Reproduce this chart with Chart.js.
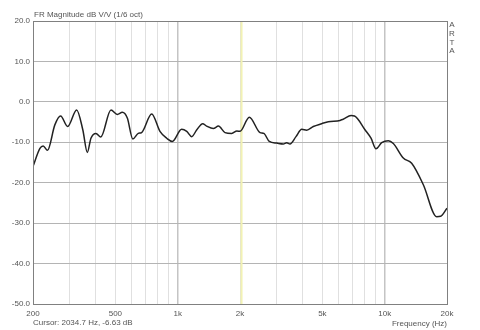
<!DOCTYPE html>
<html>
<head>
<meta charset="utf-8">
<script src="https://cdn.jsdelivr.net/npm/chart.js@4/dist/chart.umd.min.js"></script>
<style>
  html, body { margin: 0; padding: 0; background: #fff; }
  #wrap { position: relative; width: 480px; height: 330px; }
</style>
</head>
<body>
<div id="wrap"><canvas id="fr" width="480" height="330"></canvas></div>
<script>
// FR magnitude, 1/6 oct smoothing
const freqHz = [200, 216, 224, 235, 255, 272, 294, 325, 348, 366, 381, 403, 425, 476, 511, 540, 571, 607, 645, 669,
  749, 821, 885, 942, 1045, 1106, 1169, 1237, 1320, 1380, 1486, 1574, 1693, 1824, 1932, 2000, 2218, 2500, 2608, 2771,
  3007, 3237, 3363, 3487, 3728, 3974, 4200, 4520, 4964, 5341, 6082, 6300, 6886, 7150, 8030, 8590, 9080, 9670, 10415,
  11010, 12300, 13500, 15370, 17830, 18620, 20000];
const magDb = [-16.0, -11.5, -10.9, -12.0, -5.7, -3.5, -6.1, -2.0, -6.9, -12.5, -9.0, -7.8, -8.7, -2.0, -3.1, -2.6, -4.0, -9.2, -7.8, -7.6,
  -3.0, -7.3, -9.0, -9.8, -6.8, -7.3, -8.6, -6.9, -5.4, -6.0, -6.6, -6.0, -7.6, -7.8, -7.2, -7.3, -3.8, -7.6, -7.8, -9.8,
  -10.2, -10.4, -10.1, -10.4, -8.6, -6.8, -7.0, -6.1, -5.4, -4.9, -4.6, -4.3, -3.4, -3.5, -6.9, -9.0, -11.6, -10.1, -9.6,
  -10.3, -13.9, -15.2, -20.5, -28.4, -28.3, -26.3];
const gridHz = [200, 300, 400, 500, 600, 700, 800, 900, 1000, 2000, 3000, 4000, 5000, 6000, 7000, 8000, 9000, 10000, 20000];
const labelHz = {200: '200', 500: '500', 1000: '1k', 2000: '2k', 5000: '5k', 10000: '10k', 20000: '20k'};
const yTicks = [20, 10, 0, -10, -20, -30, -40, -50];
const cursorHz = 2034.7;

const FONT = 'Liberation Sans, Arial, sans-serif';

const extras = {
  id: 'extras',
  beforeDatasetsDraw(chart) {
    const {ctx, chartArea: a, scales} = chart;
    const cx = scales.x.getPixelForValue(cursorHz);
    ctx.save();
    ctx.strokeStyle = '#f2f2b4';
    ctx.lineWidth = 2;
    ctx.beginPath();
    ctx.moveTo(cx, a.top);
    ctx.lineTo(cx, a.bottom);
    ctx.stroke();
    ctx.restore();
  },
  afterDraw(chart) {
    const {ctx, chartArea: a} = chart;
    ctx.save();
    ctx.strokeStyle = '#808080';
    ctx.lineWidth = 1;
    ctx.strokeRect(a.left + 0.5, a.top + 0.5, a.right - a.left, a.bottom - a.top);
    ctx.fillStyle = '#555';
    ctx.font = '8px ' + FONT;
    ctx.textBaseline = 'middle';
    ctx.textAlign = 'left';
    ctx.fillText('FR Magnitude dB V/V (1/6 oct)', 34, 15);
    ctx.fillText('Cursor: 2034.7 Hz, -6.63 dB', 33, 323);
    ctx.textAlign = 'right';
    ctx.fillText('Frequency (Hz)', 447, 324);
    ctx.textAlign = 'center';
    ['A', 'R', 'T', 'A'].forEach((c, i) => ctx.fillText(c, 452, 25 + i * 8.7));
    ctx.restore();
  },
};

new Chart(document.getElementById('fr'), {
  type: 'line',
  data: {
    datasets: [{
      data: freqHz.map((f, i) => ({x: f, y: magDb[i]})),
      borderColor: '#222',
      borderWidth: 1.5,
      pointRadius: 0,
      cubicInterpolationMode: 'monotone',
    }],
  },
  options: {
    responsive: false,
    animation: false,
    layout: {padding: {top: 21, right: 33, left: 0, bottom: 0}},
    plugins: {legend: {display: false}, tooltip: {enabled: false}},
    scales: {
      x: {
        type: 'logarithmic',
        min: 200, max: 20000,
        afterBuildTicks: s => { s.ticks = gridHz.map(v => ({value: v})); },
        afterFit: s => { s.height = 26; },
        grid: {
          color: c => (c.tick && (c.tick.value === 1000 || c.tick.value === 10000)) ? '#c4c4c4' : '#e0e0e0',
          lineWidth: c => (c.tick && (c.tick.value === 1000 || c.tick.value === 10000)) ? 1.5 : 1,
          drawTicks: false,
        },
        border: {display: false},
        ticks: {
          autoSkip: false, maxRotation: 0, padding: 5,
          color: '#555', font: {family: FONT, size: 8},
          callback: v => labelHz[v] || '',
        },
      },
      y: {
        min: -50, max: 20,
        afterBuildTicks: s => { s.ticks = yTicks.map(v => ({value: v})); },
        afterFit: s => { s.width = 33; },
        grid: {color: '#b4b4b4', drawTicks: false},
        border: {display: false},
        ticks: {
          padding: 3, color: '#555', font: {family: FONT, size: 8},
          callback: v => v.toFixed(1),
        },
      },
    },
  },
  plugins: [extras],
});
</script>
</body>
</html>
